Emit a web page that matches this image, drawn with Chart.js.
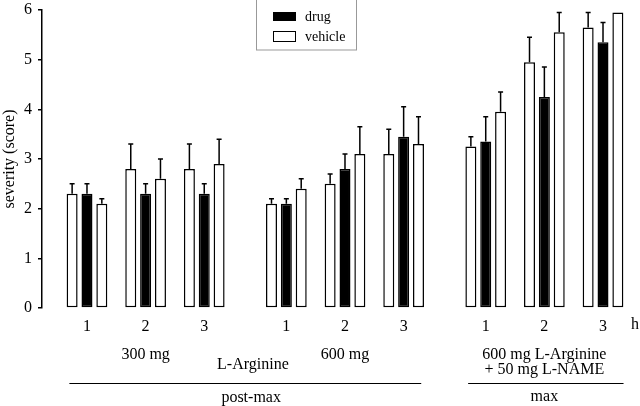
<!DOCTYPE html>
<html>
<head>
<meta charset="utf-8">
<script src="https://cdn.jsdelivr.net/npm/chart.js@4/dist/chart.umd.min.js"></script>
<style>
  html, body { margin:0; padding:0; background:#fff; }
  #wrap { width:640px; height:406px; position:relative; }
</style>
</head>
<body>
<div id="wrap"><canvas id="chart" width="640" height="406"></canvas></div>
<script>
// ---- data ----
const hours     = ['1','2','3','1','2','3','1','2','3'];
const xPos      = [1, 2, 3, 4.4, 5.4, 6.4, 7.8, 8.8, 9.8];   // gap between treatment blocks
const vehicleA  = [2.3, 2.8, 2.8, 2.1, 2.5, 3.1, 3.25, 4.95, 5.65];
const vehicleAErr = [0.2, 0.5, 0.5, 0.1, 0.2, 0.5, 0.2, 0.5, 0.3];
const drug      = [2.3, 2.3, 2.3, 2.1, 2.8, 3.45, 3.35, 4.25, 5.35];
const drugErr   = [0.2, 0.2, 0.2, 0.1, 0.3, 0.6, 0.5, 0.6, 0.4];
const vehicleB  = [2.1, 2.6, 2.9, 2.4, 3.1, 3.3, 3.95, 5.55, 5.95];
const vehicleBErr = [0.1, 0.4, 0.5, 0.2, 0.55, 0.55, 0.4, 0.4, 0];
const yTicks    = [0, 1, 2, 3, 4, 5, 6];
const legendLabels = ['drug', 'vehicle'];

const FONT = 'Liberation Serif';
const pts = (ys) => ys.map((y, i) => ({ x: xPos[i], y }));

/* error bars (upper only) */
const errorBars = {
  id: 'errorBars',
  afterDatasetsDraw(chart) {
    const { ctx, scales: { y } } = chart;
    ctx.save();
    ctx.strokeStyle = '#000';
    ctx.lineWidth = 1.5;
    chart.data.datasets.forEach((ds, di) => {
      chart.getDatasetMeta(di).data.forEach((bar, i) => {
        const e = ds.err[i];
        if (!e) return;
        const top = y.getPixelForValue(ds.data[i].y + e);
        ctx.beginPath();
        ctx.moveTo(bar.x, bar.y);
        ctx.lineTo(bar.x, top);
        ctx.moveTo(bar.x - 2.5, top);
        ctx.lineTo(bar.x + 2.5, top);
        ctx.stroke();
      });
    });
    ctx.restore();
  }
};

/* legend box + group annotations under the axis */
const annotations = {
  id: 'annotations',
  afterDraw(chart) {
    const { ctx, scales: { x } } = chart;
    const px = v => x.getPixelForValue(v);
    ctx.save();
    ctx.fillStyle = '#000';
    ctx.font = `16px "${FONT}"`;
    ctx.textAlign = 'center';
    ctx.textBaseline = 'middle';

    ctx.fillText('h', 635, 325);
    ctx.fillText('300 mg', px(xPos[1]), 355);
    ctx.fillText('600 mg', px(xPos[4]), 355);
    ctx.fillText('L-Arginine', px((xPos[2] + xPos[3]) / 2 + 0.13), 365);
    ctx.fillText('600 mg L-Arginine', px(xPos[7]), 355);
    ctx.fillText('+ 50 mg L-NAME', px(xPos[7]), 370);
    ctx.fillText('post-max', px((xPos[0] + xPos[5]) / 2 + 0.1), 398);
    ctx.fillText('max', px(xPos[7]), 397);

    ctx.lineWidth = 1;
    ctx.beginPath();
    ctx.moveTo(px(xPos[0] - 0.3), 383.5); ctx.lineTo(px(xPos[5] + 0.3), 383.5);
    ctx.moveTo(px(xPos[6] - 0.3), 383.5); ctx.lineTo(px(xPos[8] + 0.35), 383.5);
    ctx.stroke();

    // legend
    ctx.font = `14px "${FONT}"`;
    ctx.strokeStyle = '#999';
    ctx.strokeRect(256.5, -1, 100, 51);
    ctx.textAlign = 'left';
    ctx.fillStyle = '#000';
    ctx.fillRect(273, 12, 23, 9);
    ctx.strokeStyle = '#000';
    ctx.strokeRect(273.5, 31.5, 22, 10);
    ctx.fillText(legendLabels[0], 305, 17);
    ctx.fillText(legendLabels[1], 305, 37);
    ctx.restore();
  }
};

const barStyle = (fill) => ({
  backgroundColor: fill,
  borderColor: '#000',
  borderWidth: 1.5,
  borderSkipped: false,
  categoryPercentage: 0.76,
  barPercentage: 0.74
});

new Chart(document.getElementById('chart'), {
  type: 'bar',
  data: {
    datasets: [
      { label: 'vehicle', data: pts(vehicleA), err: vehicleAErr, ...barStyle('#fff') },
      { label: 'drug',    data: pts(drug),     err: drugErr,     ...barStyle('#000') },
      { label: 'vehicle', data: pts(vehicleB), err: vehicleBErr, ...barStyle('#fff') }
    ]
  },
  options: {
    responsive: false,
    animation: false,
    layout: { padding: { top: 10, right: 15, left: 0, bottom: 0 } },
    plugins: { legend: { display: false }, tooltip: { enabled: false } },
    scales: {
      x: {
        type: 'linear',
        min: 0.233, max: 10.175,
        offset: false,
        grid: { display: false, drawTicks: false },
        border: { display: false },
        afterBuildTicks: s => { s.ticks = xPos.map(v => ({ value: v })); },
        afterFit: s => { s.height = 98; },
        ticks: {
          color: '#000', padding: 9, autoSkip: false, maxRotation: 0,
          font: { family: FONT, size: 16 },
          callback: (v, i) => hours[i]
        }
      },
      y: {
        min: 0, max: 6,
        afterBuildTicks: s => { s.ticks = yTicks.map(v => ({ value: v })); },
        afterFit: s => { s.width = 42; s.paddingTop = 0; s.paddingBottom = 0; },
        grid: { drawOnChartArea: false, tickLength: 4, color: '#000', lineWidth: 1.5 },
        border: { display: true, color: '#000', width: 1.5 },
        ticks: { color: '#000', padding: 6, font: { family: FONT, size: 16 } },
        title: { display: true, text: 'severity (score)', color: '#000', padding: 0,
                 font: { family: FONT, size: 16 } }
      }
    }
  },
  plugins: [errorBars, annotations]
});
</script>
</body>
</html>
